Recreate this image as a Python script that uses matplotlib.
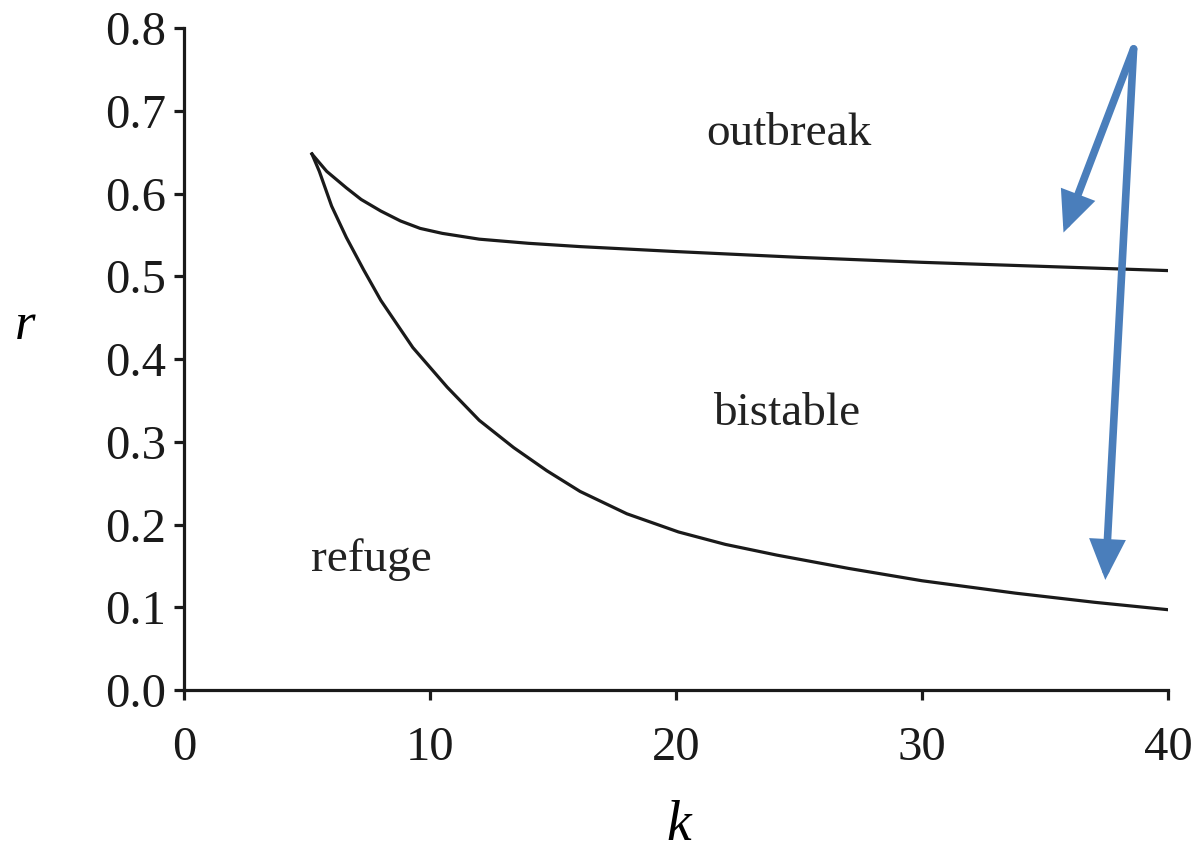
import matplotlib.pyplot as plt

# boundary curves
k_upper = [5.2, 5.8, 6.6, 7.2, 8.0, 8.8, 9.6, 10.5, 12.0, 14.0, 16.1, 20.0, 25.0, 30.0, 35.0, 40.0]
r_upper = [0.648, 0.627, 0.607, 0.593, 0.579, 0.567, 0.558, 0.552, 0.545, 0.540, 0.536, 0.530, 0.523, 0.517, 0.512, 0.507]
k_lower = [5.2, 5.5, 6.0, 6.6, 7.3, 8.0, 9.3, 10.7, 12.0, 13.4, 14.75, 16.1, 18.0, 20.1, 22.0, 24.1,
           27.0, 30.0, 33.8, 37.0, 40.0]
r_lower = [0.648, 0.627, 0.585, 0.547, 0.508, 0.471, 0.414, 0.366, 0.326, 0.293, 0.265, 0.240, 0.213,
           0.191, 0.176, 0.163, 0.147, 0.132, 0.117, 0.106, 0.097]

region_names = ['outbreak', 'bistable', 'refuge']
region_k = [24.6, 24.5, 7.6]
region_r = [0.673, 0.334, 0.157]

arrow_tail = (38.6, 0.775)
arrow_tips = [(35.75, 0.553), (37.45, 0.133)]

plt.rcParams['font.family'] = ['Liberation Serif', 'DejaVu Serif']

fig = plt.figure(figsize=(11.98, 8.56), dpi=100)
ax = fig.add_axes([0.1536, 0.194, 0.8214, 0.773])

ax.plot(k_upper, r_upper, color='#1a1a1a', lw=2.3)
ax.plot(k_lower, r_lower, color='#1a1a1a', lw=2.3)

for name, kk, rr in zip(region_names, region_k, region_r):
    ax.text(kk, rr, name, fontsize=34, ha='center', va='center', color='#222222')

for tip in arrow_tips:
    ax.annotate('', xy=tip, xytext=arrow_tail,
                arrowprops=dict(arrowstyle='-|>,head_length=2.0,head_width=0.9',
                                color='#4a7ebb', lw=5.5, shrinkA=0, shrinkB=0,
                                joinstyle='miter'))

ax.set_xlim(0, 40)
ax.set_ylim(0, 0.8)
ax.set_xticks([0, 10, 20, 30, 40])
ax.set_yticks([i / 10 for i in range(9)])
ax.set_yticklabels(['%.1f' % (i / 10) for i in range(9)])
for s in ['top', 'right']:
    ax.spines[s].set_visible(False)
for s in ['left', 'bottom']:
    ax.spines[s].set_linewidth(2.3)
    ax.spines[s].set_color('#1a1a1a')
ax.tick_params(direction='out', length=7, width=2.3, labelsize=35, colors='#1a1a1a', pad=6)
ax.tick_params(axis='x', pad=19)

ax.set_xlabel('k', fontsize=40, style='italic')
ax.xaxis.set_label_coords(0.503, -0.205)
ax.xaxis.label.set_va('center')
ax.set_ylabel('r', fontsize=38, style='italic', rotation=0)
ax.yaxis.set_label_coords(-0.161, 0.55)
ax.yaxis.label.set_va('center')
ax.yaxis.label.set_ha('center')

fig.savefig('out.png', dpi=100)
